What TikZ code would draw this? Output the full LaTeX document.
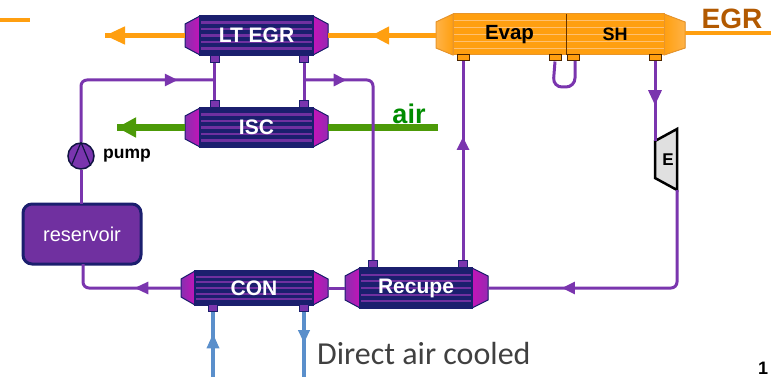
\documentclass[tikz,border=0pt]{standalone}
\usepackage{fontspec}
\setmainfont{Liberation Sans}
\newfontfamily\carl{Carlito}
\usetikzlibrary{arrows.meta,decorations.markings,calc,shapes.geometric}
\definecolor{navy}{HTML}{1B1F6E}
\definecolor{pur}{HTML}{7A35AE}
\definecolor{resfill}{HTML}{7030A0}
\definecolor{stripe}{HTML}{7030A0}
\definecolor{magn}{HTML}{C414B8}
\definecolor{orng}{HTML}{FF9F10}
\definecolor{orngl}{HTML}{FFC070}
\definecolor{orngc}{HTML}{FFB347}
\definecolor{orngd}{HTML}{E8952A}
\definecolor{blu}{HTML}{5A8FCB}
\definecolor{grn}{HTML}{4C9A08}
\tikzset{
  x=1pt,y=-1pt,
  pipe/.style={draw=pur,line width=3pt,rounded corners=6pt},
  coldpipe/.style={draw=blu,line width=3.5pt},
  hotpipe/.style={draw=orng,line width=4.5pt},
  airpipe/.style={draw=grn,line width=6.5pt},
  tipat/.style 2 args={postaction={decorate},decoration={markings,
     mark=at position #1 with {\arrow{Triangle[#2]}}}},
  stub/.style={draw=navy,fill=pur,line width=1pt,minimum width=9pt,minimum height=7pt,inner sep=0pt},
  hotstub/.style={draw=black!70!orange,fill=orng,line width=1pt,minimum width=12pt,minimum height=6pt,inner sep=0pt},
  hxlabel/.style={text=white,font=\bfseries\fontsize{21}{21}\selectfont,inner sep=0pt},
  bodybox/.style={inner sep=0pt,outer sep=0pt},
}
% name, x-left, body-left, body-right, x-right, y-top, y-bottom, label
\newcommand{\hexch}[8]{%
  \filldraw[draw=navy,line width=1pt,left color=pur!80!magn,right color=magn] (#2,#6+8)--(#3,#6)--(#3,#7)--(#2,#7-8)--cycle;
  \filldraw[draw=navy,line width=1pt,left color=magn,right color=pur!60!magn] (#5,#6+8)--(#4,#6)--(#4,#7)--(#5,#7-8)--cycle;
  \node[bodybox,draw=navy,line width=1.5pt,fill=navy,minimum width=#4pt-#3pt,minimum height=#7pt-#6pt] (#1) at ({(#3+#4)/2},{(#6+#7)/2}) {};
  \foreach \k in {1,...,5}{\draw[stripe,line width=2.2pt] (#3+1,{#6+(#7-#6)*\k/6})--(#4-1,{#6+(#7-#6)*\k/6});}
  \node[hxlabel] at (#1.center) {#8};
  \coordinate (#1-w) at (#2,{(#6+#7)/2});
  \coordinate (#1-e) at (#5,{(#6+#7)/2});
}
\begin{document}
\begin{tikzpicture}
\useasboundingbox (0,0) rectangle (771,377);
% coordinates of free ends and junctions
\coordinate (hotstart) at (0,20); \coordinate (hotstartb) at (30,20);
\coordinate (ltout) at (105,35.5);
\coordinate (evin) at (436,35.5);
\coordinate (iscout) at (117,127.5);
\coordinate (airin) at (438,127.5);
\coordinate (egrin) at (771,33);
\coordinate (egrend) at (685,33);
\coordinate (jl) at (214.5,80);
\coordinate (jr) at (304,80);
\coordinate (ca) at (213,377);
\coordinate (cb) at (304,377);
\coordinate (resin) at (81,204);
\coordinate (resout) at (83,264);
% exchangers
\hexch{lt}{185}{200}{313}{328}{16}{55}{LT EGR}
\hexch{isc}{185}{200}{313}{328}{108}{147}{ISC}
\hexch{con}{181}{195}{313}{328}{271}{305}{CON}
\hexch{rec}{345}{360}{472}{488}{268}{308}{Recupe}
% evaporator / superheater
\filldraw[draw=orngd,line width=1pt,left color=orngc,right color=orng] (436,22)--(453,14)--(453,55)--(436,48)--cycle;
\filldraw[draw=orngd,line width=1pt,left color=orng,right color=orngc] (685,22)--(664,14)--(664,55)--(685,48)--cycle;
\node[bodybox,fill=orng,minimum width=113pt,minimum height=41pt] (evap) at (509.5,34.5) {};
\node[bodybox,fill=orng,minimum width=98pt,minimum height=41pt] (sh) at (615,34.5) {};
\foreach \k in {1,...,5}{\draw[orngl,line width=1.2pt] (453,{14+41*\k/6})--(664,{14+41*\k/6});}
\draw[orngd,line width=1pt] (453,14) rectangle (664,55);
\draw[black!60!orange,line width=.6pt] (566,14)--(566,55);
\node[font=\bfseries\fontsize{20.5}{20.5}\selectfont,inner sep=0pt] at (evap.center) {Evap};
\node[font=\bfseries\fontsize{18}{18}\selectfont,inner sep=0pt] at (sh.center) {SH};
% stubs
\node[stub] (lt1) at (214.5,59) {}; \node[stub] (lt2) at (304,59) {};
\node[stub] (isc1) at (214.5,104) {}; \node[stub] (isc2) at (304,104) {};
\node[stub] (con1) at (213,308) {}; \node[stub] (con2) at (304,308) {};
\node[stub] (rec1) at (373,264) {}; \node[stub] (rec2) at (463,264) {};
\node[hotstub] (ev1) at (463,58) {}; \node[hotstub] (ev2) at (555,58) {};
\node[hotstub] (sh1) at (573,58) {}; \node[hotstub] (sh2) at (655,58) {};
% reservoir, pump, expander
\node[draw=navy,fill=resfill,line width=3pt,rounded corners=9pt,minimum width=118pt,minimum height=60pt,text=white,font=\fontsize{20}{20}\selectfont,inner sep=0pt] (res) at (82,234) {reservoir};
\node[circle,draw=navy!60!black,fill=pur,line width=1.5pt,minimum size=26pt,inner sep=0pt] (pump) at (81,156) {};
\draw[navy!60!black,line width=1.2pt] (pump.south west)--(pump.north)--(pump.south east);
\node[font=\bfseries\fontsize{17.5}{17.5}\selectfont,inner sep=0pt,anchor=west] (pumpl) at (103,156) {pump};
\coordinate (tbin) at (655,141);
\coordinate (tbout) at (677,190);
\filldraw[draw=black,fill=black!12,line width=2.5pt,line join=miter] (655,141)--(677,129)--(677,190)--(655,178)--cycle;
\node[font=\bfseries\fontsize{17}{17}\selectfont,inner sep=0pt] (exp) at (668,160) {E};
% hot gas lines
\draw[hotpipe] (hotstart)--(hotstartb);
\draw[hotpipe] (egrin)--(egrend);
\draw[hotpipe,tipat={0.6}{length=18pt,width=17pt}] (evin)--(lt-e);
\draw[hotpipe,tipat={1}{length=20pt,width=17pt}] (lt-w)--(ltout);
% air lines
\draw[airpipe] (airin)--(isc-e);
\draw[airpipe,tipat={1}{length=19pt,width=19pt}] (isc-w)--(iscout);
% working fluid
\draw[pipe] (lt1)--(isc1);
\draw[pipe] (lt2)--(isc2);
\draw[pipe,tipat={0.81}{length=13pt,width=12pt}] (pump.north)--(81,80)--(jl);
\draw[pipe,tipat={0.173}{length=13pt,width=12pt}] (jr)--(373,80)--(rec1);
\draw[pipe] (resin)--(pump.south);
\draw[pipe,tipat={0.39}{length=14pt,width=12pt}] (con-w)--(83,288)--(resout);
\draw[pipe] (rec-w)--(con-e);
\draw[pipe,tipat={0.62}{length=13pt,width=12pt}] (rec2)--(ev1);
\draw[pipe,rounded corners=9pt] (ev2.south)--(553,87)--(575,87)--(575,61);
\draw[pipe,tipat={0.55}{length=15pt,width=13pt}] (sh2)--(tbin);
\draw[pipe,tipat={0.74}{length=13pt,width=12pt}] (tbout)--(677,288)--(rec-e);
% cooling air
\draw[coldpipe,tipat={0.67}{length=15pt,width=12pt}] (ca)--(con1);
\draw[coldpipe,tipat={0.48}{length=13pt,width=11pt}] (con2)--(cb);
% labels
\node[text=green!55!black,font=\bfseries\fontsize{27}{27}\selectfont,inner sep=0pt] (airl) at (409,114) {air};
\node[text=orange!70!black,font=\bfseries\fontsize{28}{28}\selectfont,inner sep=0pt] (egrl) at (732,19) {EGR};
\node[text=black!75,font=\carl\fontsize{32}{32}\selectfont,inner sep=0pt,anchor=west] (dac) at (317,354) {Direct air cooled};
\node[font=\bfseries\fontsize{18}{18}\selectfont,inner sep=0pt,anchor=base] (pg) at (763,374) {1};
\end{tikzpicture}
\end{document}
